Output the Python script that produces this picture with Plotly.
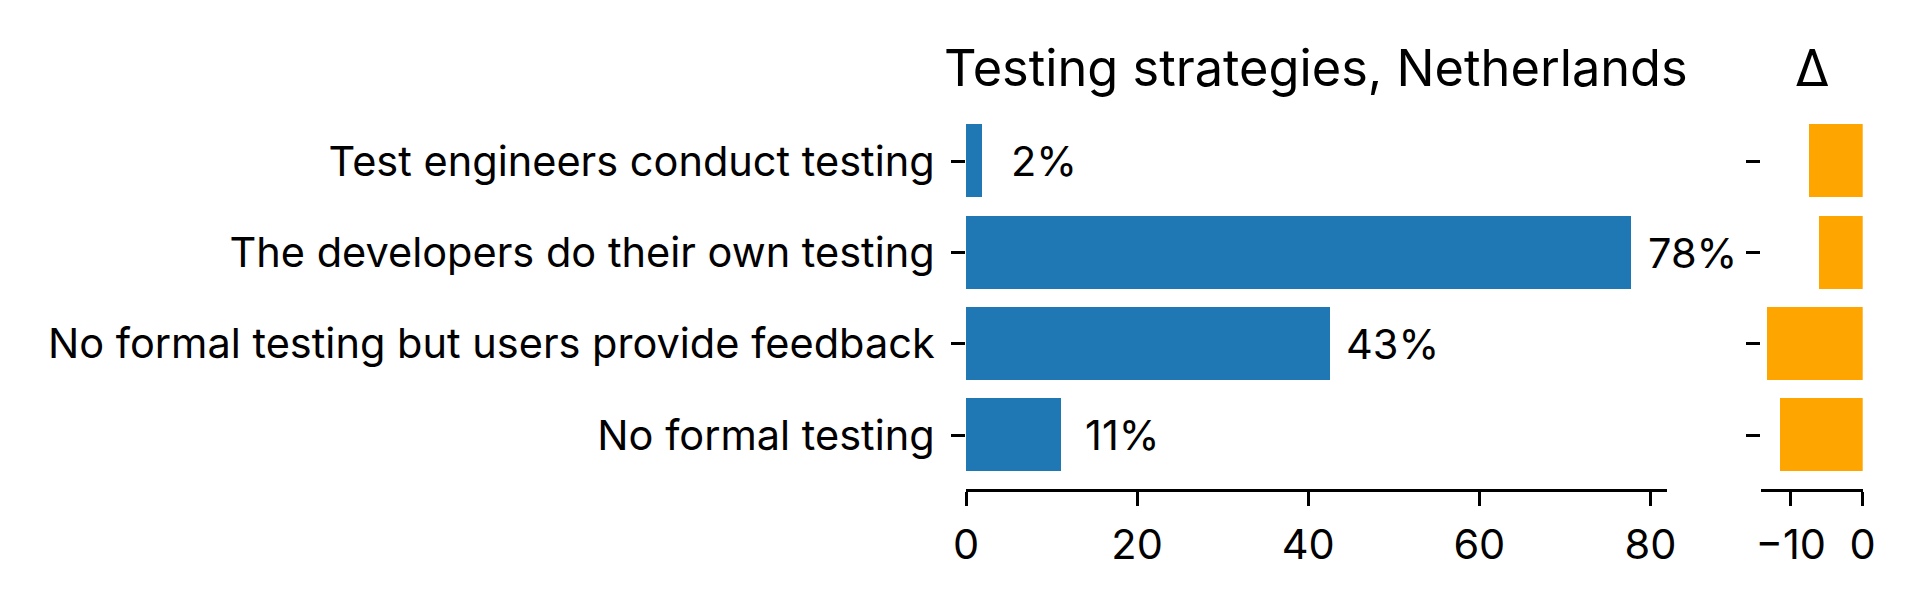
import plotly.graph_objects as go

categories = [
    "Test engineers conduct testing",
    "The developers do their own testing",
    "No formal testing but users provide feedback",
    "No formal testing",
]
shares = [1.9, 77.7, 42.6, 11.1]
deltas = [-7.5, -6.2, -13.3, -11.5]
x_ticks = [0, 20, 40, 60, 80]
delta_ticks = [-10, 0]
delta_ticktext = ["\u221210", "0"]
title_main = "Testing strategies, Netherlands"
title_delta = "\u0394"

FONT = "Inter"
FS = 41.5
BLUE = "#1f77b4"
ORANGE = "#FFA500"

idx = list(range(len(categories)))

fig = go.Figure()
fig.add_trace(go.Bar(
    x=shares, y=idx, orientation="h", width=0.8,
    marker=dict(color=BLUE, line=dict(width=0)),
    xaxis="x", yaxis="y", hoverinfo="skip", showlegend=False,
))
fig.add_trace(go.Bar(
    x=deltas, y=idx, orientation="h", width=0.8,
    marker=dict(color=ORANGE, line=dict(width=0)),
    xaxis="x2", yaxis="y2", hoverinfo="skip", showlegend=False,
))

annotations = []
for i, v in enumerate(shares):
    annotations.append(dict(
        x=v, y=i, xref="x", yref="y", text=f"{round(v)}%",
        showarrow=False, xanchor="center", yanchor="middle", xshift=62,
        font=dict(family=FONT, size=FS, color="black"),
    ))
annotations.append(dict(
    x=0.5 * (0.50313 + 0.86807), y=1 - 67 / 600, xref="paper", yref="paper",
    text=title_main, showarrow=False, xanchor="center", yanchor="middle",
    font=dict(family=FONT, size=50.5, color="black"),
))
annotations.append(dict(
    x=0.5 * (0.91693 + 0.97016), y=1 - 67 / 600, xref="paper", yref="paper",
    text=title_delta, showarrow=False, xanchor="center", yanchor="middle",
    font=dict(family=FONT, size=50.5, color="black"),
))

ydom = [1 - 489 / 600, 1 - 107.4 / 600]
axis_common = dict(showgrid=False, zeroline=False, ticks="outside", ticklen=14,
                   tickwidth=2.5, tickcolor="black",
                   tickfont=dict(family=FONT, size=FS, color="black"))

fig.update_layout(
    width=1920, height=600,
    margin=dict(l=0, r=0, t=0, b=0, autoexpand=False),
    paper_bgcolor="white", plot_bgcolor="white",
    font=dict(family=FONT, size=FS, color="black"),
    showlegend=False,
    bargap=0,
    annotations=annotations,
    xaxis=dict(domain=[0.50313, 0.86807], range=[0, 81.9], tickvals=x_ticks,
               showline=True, linecolor="black", linewidth=2.5, anchor="y",
               ticklabelstandoff=3, **axis_common),
    yaxis=dict(domain=ydom, range=[3.59, -0.59], tickvals=idx, ticktext=categories,
               showline=False, anchor="x", ticklabelstandoff=8, **axis_common),
    xaxis2=dict(domain=[0.91693, 0.97016], range=[-14.2, 0], tickvals=delta_ticks,
                ticktext=delta_ticktext, showline=True, linecolor="black",
                linewidth=2.5, anchor="y2", ticklabelstandoff=3, **axis_common),
    yaxis2=dict(domain=ydom, range=[3.59, -0.59], tickvals=idx, showticklabels=False,
                showline=False, anchor="x2", **axis_common),
)

fig.write_html("out.html", config={"displayModeBar": False},
               post_script="document.body.style.margin='0';")
